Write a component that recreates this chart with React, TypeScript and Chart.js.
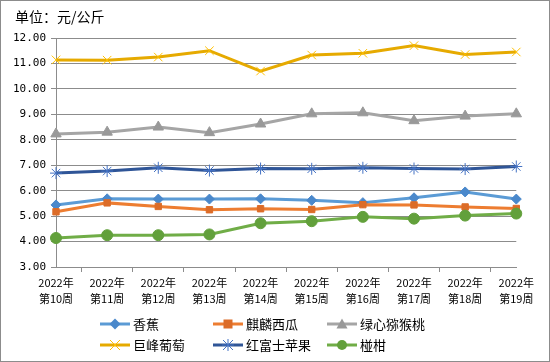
import React, { useEffect, useRef } from 'react';
import { Chart, registerables } from 'chart.js';

Chart.register(...registerables);

const yearLabel = '2022年';
const weekLabels = ['第10周', '第11周', '第12周', '第13周', '第14周', '第15周', '第16周', '第17周', '第18周', '第19周'];

const seriesNames = ['香蕉', '麒麟西瓜', '绿心猕猴桃', '巨峰葡萄', '红富士苹果', '椪柑'];

const banana = [5.44, 5.68, 5.67, 5.67, 5.68, 5.62, 5.53, 5.72, 5.95, 5.67];
const watermelon = [5.17, 5.52, 5.38, 5.25, 5.29, 5.26, 5.45, 5.44, 5.36, 5.3];
const kiwi = [8.23, 8.3, 8.5, 8.28, 8.62, 9.02, 9.06, 8.75, 8.93, 9.02];
const grape = [11.14, 11.13, 11.25, 11.5, 10.7, 11.33, 11.4, 11.7, 11.35, 11.45];
const apple = [6.69, 6.77, 6.9, 6.79, 6.87, 6.86, 6.9, 6.87, 6.85, 6.95];
const mandarin = [4.14, 4.25, 4.25, 4.28, 4.72, 4.8, 4.97, 4.9, 5.02, 5.1];

const yMin = 3;
const yMax = 12;
const yStep = 1;

const seriesData = [banana, watermelon, kiwi, grape, apple, mandarin];
const lineColors = ['#5B9BD5', '#ED7D31', '#A5A5A5', '#E6AA00', '#2F5597', '#70AD47'];
const markerColors = ['#4A88CB', '#DC6C28', '#999999', '#FFC000', '#4472C4', '#62A03B'];
const markerStyles = ['rectRot', 'rect', 'triangle', 'crossRot', 'star', 'circle'];
const markerRadius = [5, 4.5, 6, 6, 6, 5.5];

const GRID = '#8C8C8C';
const CJK = '"Noto Sans CJK SC", "Noto Sans", sans-serif';

function LegendMarker({ i }: { i: number }) {
  const c = markerColors[i];
  const s = markerStyles[i];
  let m: React.ReactNode = null;
  if (s === 'rectRot') m = <polygon points="15,1.5 20.5,7 15,12.5 9.5,7" fill={c} />;
  if (s === 'rect') m = <rect x={10.5} y={2.5} width={9} height={9} fill={c} />;
  if (s === 'triangle') m = <polygon points="15,1.5 20.5,11.5 9.5,11.5" fill={c} />;
  if (s === 'crossRot')
    m = (
      <g stroke={c} strokeWidth={1}>
        <line x1={10} y1={2} x2={20} y2={12} />
        <line x1={20} y1={2} x2={10} y2={12} />
      </g>
    );
  if (s === 'star')
    m = (
      <g stroke={c} strokeWidth={1}>
        <line x1={10} y1={2} x2={20} y2={12} />
        <line x1={20} y1={2} x2={10} y2={12} />
        <line x1={15} y1={1} x2={15} y2={13} />
        <line x1={9} y1={7} x2={21} y2={7} />
      </g>
    );
  if (s === 'circle') m = <circle cx={15} cy={7} r={5} fill={c} />;
  return (
    <svg width={30} height={14} style={{ display: 'block' }}>
      <line x1={0} y1={7} x2={30} y2={7} stroke={lineColors[i]} strokeWidth={3} />
      {m}
    </svg>
  );
}

export default function App() {
  const ref = useRef<HTMLCanvasElement | null>(null);

  useEffect(() => {
    if (!ref.current) return;
    const chart = new Chart(ref.current, {
      type: 'line',
      data: {
        labels: weekLabels.map((w) => [yearLabel, w]),
        datasets: seriesNames.map((name, i) => ({
          label: name,
          data: seriesData[i],
          borderColor: lineColors[i],
          backgroundColor: markerColors[i],
          borderWidth: 3,
          pointStyle: markerStyles[i] as any,
          pointRadius: markerRadius[i],
          pointBackgroundColor: markerColors[i],
          pointBorderColor: markerColors[i],
          pointBorderWidth: 1,
          tension: 0,
          fill: false,
          order: 6 - i,
        })),
      },
      options: {
        responsive: false,
        animation: false,
        devicePixelRatio: 1,
        layout: { padding: { top: 37, right: 0, bottom: 54, left: 0 } },
        plugins: {
          legend: { display: false },
          title: { display: false },
          tooltip: { enabled: false },
        },
        scales: {
          x: {
            afterFit: (scale: any) => {
              scale.height = 40;
            },
            grid: {
              drawOnChartArea: false,
              drawTicks: true,
              offset: true,
              tickLength: 5,
              color: GRID,
            },
            border: { color: GRID, width: 1 },
            ticks: {
              autoSkip: false,
              maxRotation: 0,
              minRotation: 0,
              padding: 3,
              color: '#000',
              font: { family: CJK, size: 11, lineHeight: 1.45 },
            },
          },
          y: {
            min: yMin,
            max: yMax,
            afterFit: (scale: any) => {
              scale.width = 55;
            },
            grid: { color: GRID, tickLength: 5, drawTicks: true },
            border: { color: GRID, width: 1 },
            ticks: {
              stepSize: yStep,
              padding: 5,
              color: '#000',
              font: { family: '"DejaVu Sans Mono", monospace', size: 11 },
              callback: (v: any) => Number(v).toFixed(2),
            },
          },
        },
      },
    });
    return () => chart.destroy();
  }, []);

  const colX = [100, 213, 327];
  const rowY = [317, 338];

  return (
    <div
      style={{
        position: 'absolute',
        left: 0,
        top: 0,
        width: 550,
        height: 362,
        boxSizing: 'border-box',
        border: '1px solid ' + GRID,
        background: '#fff',
        fontFamily: CJK,
      }}
    >
      <canvas ref={ref} width={536} height={360} style={{ display: 'block', width: 536, height: 360 }} />
      <div
        style={{
          position: 'absolute',
          left: 14,
          top: 5,
          fontSize: 14,
          lineHeight: '20px',
          color: '#000',
        }}
      >
        单位：元/公斤
      </div>
      {seriesNames.map((name, i) => (
        <div
          key={name}
          style={{
            position: 'absolute',
            left: colX[i % 3] - 1,
            top: rowY[Math.floor(i / 3)] - 1,
            display: 'flex',
            alignItems: 'center',
            height: 14,
            fontSize: 13,
            color: '#000',
            whiteSpace: 'nowrap',
          }}
        >
          <LegendMarker i={i} />
          <span style={{ marginLeft: 3, lineHeight: '14px' }}>{name}</span>
        </div>
      ))}
    </div>
  );
}
